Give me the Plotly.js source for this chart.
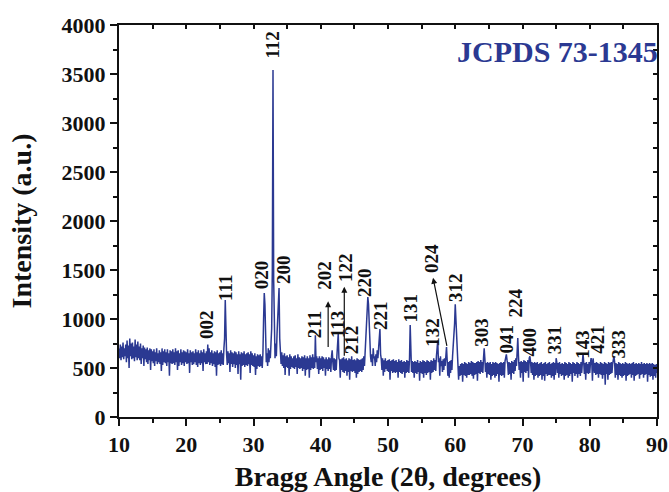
<!DOCTYPE html>
<html>
<head>
<meta charset="utf-8">
<script src="https://cdn.plot.ly/plotly-3.0.1.min.js"></script>
<style>html,body{margin:0;padding:0;background:#fff;}#chart{width:669px;height:492px;}</style>
</head>
<body>
<div id="chart"></div>
<script>
// XRD scan: 2θ start and step (degrees), intensities
const scanStart = 10.0;
const scanStep = 0.1;
const intensity = [
  700,600,740,580,720,610,760,590,700,620,   // 10
  740,560,780,600,730,500,800,620,750,590,   // 11
  760,600,720,570,790,610,740,580,770,600,   // 12
  720,580,750,540,700,600,730,520,710,590,   // 13
  690,560,710,540,680,580,700,480,690,570,   // 14
  670,550,690,520,660,570,700,540,650,560,   // 15
  680,540,660,470,700,530,670,560,690,550,   // 16
  660,520,690,560,650,420,680,550,670,540,   // 17
  690,550,660,530,700,560,670,480,680,520,   // 18
  650,560,690,530,660,550,680,520,670,560,   // 19
  660,540,690,550,650,450,680,560,660,530,   // 20
  670,540,650,560,690,530,660,510,680,550,   // 21
  650,530,680,550,660,470,690,560,650,540,   // 22
  670,540,740,560,700,530,660,550,680,520,   // 23
  650,540,670,510,660,420,680,530,650,540,   // 24
  660,520,680,540,650,530,700,800,1193,750,  // 25
  640,530,670,550,650,460,680,540,660,510,   // 26
  650,540,670,500,660,530,640,440,670,540,   // 27
  640,380,660,520,650,530,670,510,640,530,   // 28
  650,520,660,540,640,450,670,530,650,520,   // 29
  630,510,650,430,620,490,640,520,630,510,   // 30
  640,520,620,500,650,1000,1265,1150,800,560,// 31
  650,520,700,560,680,600,750,900,1500,3540, // 32
  1400,700,600,750,620,850,1000,1150,1316,800,// 33
  620,540,660,520,630,500,650,430,620,510,   // 34
  630,500,610,420,640,490,620,510,600,500,   // 35
  620,490,630,510,600,440,640,500,610,490,   // 36
  600,500,620,470,610,490,630,420,600,480,   // 37
  620,490,600,400,630,480,610,500,640,490,   // 38
  610,500,835,560,620,490,600,440,620,480,   // 39
  600,490,620,470,610,500,590,420,610,490,   // 40
  590,470,610,490,600,460,620,680,560,480,   // 41
  600,470,590,480,620,700,855,600,580,400,   // 42
  590,480,600,460,610,450,590,470,600,420,   // 43
  580,460,600,380,590,470,620,460,580,470,   // 44
  590,450,580,400,600,440,590,460,580,470,   // 45
  590,460,600,480,620,520,700,850,1000,1100, // 46
  1224,1150,900,700,620,560,640,520,700,600, // 47
  620,520,640,560,680,600,720,800,897,640,   // 48
  590,480,600,420,580,460,600,490,570,470,   // 49
  580,460,590,380,570,470,580,450,590,460,   // 50
  570,450,580,460,560,400,590,460,570,450,   // 51
  580,440,560,460,570,400,560,450,580,460,   // 52
  570,450,600,938,620,460,570,450,560,400,   // 53
  570,450,560,440,580,460,550,370,570,450,   // 54
  560,440,580,400,570,450,560,430,580,450,   // 55
  570,460,560,380,580,450,570,460,600,480,   // 56
  580,470,620,700,780,560,600,420,620,520,   // 57
  570,460,590,480,600,520,640,713,580,420,   // 58
  560,400,570,450,580,480,620,700,850,950,   // 59
  1150,1000,700,560,440,380,520,420,540,430, // 60
  550,360,540,430,560,420,550,400,540,430,   // 61
  560,430,550,440,570,420,560,390,550,430,   // 62
  550,440,560,370,570,450,560,440,580,460,   // 63
  560,450,600,702,600,460,550,400,560,440,   // 64
  550,430,560,380,540,420,560,430,550,400,   // 65
  560,420,550,440,540,360,550,430,560,420,   // 66
  550,430,560,400,570,600,640,580,540,430,   // 67
  560,440,550,380,570,450,560,440,580,470,   // 68
  600,520,680,805,620,480,560,400,570,450,   // 69
  560,360,580,460,570,450,560,470,580,400,   // 70
  600,620,560,450,560,430,550,380,560,420,   // 71
  550,430,560,400,540,420,550,430,560,380,   // 72
  540,420,550,370,560,440,540,420,550,430,   // 73
  560,430,540,400,550,420,560,380,550,430,   // 74
  600,560,450,550,400,560,440,540,420,550,   // 75
  430,540,380,560,420,550,430,540,400,560,   // 76
  420,550,440,540,360,560,450,550,420,540,   // 77
  440,560,400,550,440,540,420,560,450,600,   // 78
  650,560,440,550,380,560,450,540,440,560,   // 79
  450,550,600,560,370,600,540,450,550,430,   // 80
  560,440,550,400,540,440,560,430,550,390,   // 81
  540,430,560,330,550,440,540,380,560,430,   // 82
  550,440,560,450,540,600,620,560,400,550,   // 83
  430,540,380,560,430,550,420,540,400,550,   // 84
  420,540,430,560,370,550,420,540,430,550,   // 85
  440,540,400,550,430,560,370,540,420,550,   // 86
  430,540,440,550,390,540,430,560,440,540,   // 87
  400,550,430,540,440,550,360,540,430,550,   // 88
  410,540,420,550,380,540,420,530,400,540,   // 89
  450                                        // 90
];

// Miller-index labels: text, 2θ and intensity where each label sits
const hklLabels = ["002","111","020","112","200","211","202","113","122","212","220","221","131","132","024","312","303","041","224","400","331","143","421","333"];
const hklX      = [23.1, 25.8, 31.3, 32.9, 34.4, 39.2, 40.6, 42.6, 43.6, 44.6, 46.6, 48.8, 53.3, 56.7, 56.5, 60.0, 64.0, 67.7, 68.9, 71.1, 74.8, 78.9, 81.1, 84.2];
const hklY      = [ 940, 1320, 1450, 3790, 1500,  940, 1450,  940, 1530,  790, 1370, 1040, 1110,  860, 1620, 1320,  860,  790, 1160,  770,  790,  740,  790,  740];

// Indicator arrows: from (tail 2θ, tail intensity) to (head 2θ, head intensity)
const arrowTailX = [41.1, 43.5, 58.8];
const arrowTailY = [ 700,  610,  710];
const arrowHeadX = [41.1, 43.5, 56.7];
const arrowHeadY = [1180, 1330, 1420];

const cardText = "JCPDS 73-1345";

const twoTheta = intensity.map((_, i) => +(scanStart + i * scanStep).toFixed(2));

const serif = "Liberation Serif, Times New Roman, serif";
const blue = "#2B3992";

const annotations = [];
hklLabels.forEach((t, i) => {
  annotations.push({x: hklX[i], y: hklY[i], xref: "x", yref: "y", text: t, showarrow: false,
    textangle: -90, font: {family: serif, size: 19, color: "#111", weight: "bold"}});
});
arrowTailX.forEach((_, i) => {
  annotations.push({x: arrowHeadX[i], y: arrowHeadY[i], ax: arrowTailX[i], ay: arrowTailY[i],
    xref: "x", yref: "y", axref: "x", ayref: "y", text: "", showarrow: true,
    arrowhead: 2, arrowsize: 1, arrowwidth: 1.2, arrowcolor: "#111"});
});
annotations.push({x: 1.005, xref: "paper", xanchor: "right", y: 3730, yref: "y", yanchor: "middle",
  text: cardText, showarrow: false, font: {family: serif, size: 30, color: blue, weight: "bold"}});

const data = [
  {x: twoTheta, y: intensity, type: "scatter", mode: "lines",
   line: {color: blue, width: 1.5}, hoverinfo: "skip", showlegend: false},
  {x: [10, 90], y: [0, 4000], xaxis: "x2", yaxis: "y2", type: "scatter", mode: "markers",
   marker: {opacity: 0}, hoverinfo: "skip", showlegend: false}
];

const layout = {
  width: 669, height: 492,
  margin: {l: 119, r: 12, t: 25, b: 75},
  paper_bgcolor: "#fff", plot_bgcolor: "#fff",
  font: {family: serif, color: "#111"},
  xaxis: {
    range: [10, 90], dtick: 10, tick0: 10, ticks: "outside", ticklen: 7, tickwidth: 2, tickcolor: "#111",
    minor: {dtick: 5, ticks: "outside", ticklen: 4, tickwidth: 2, tickcolor: "#111"},
    showline: true, linewidth: 2, linecolor: "#111", showgrid: false, zeroline: false,
    tickfont: {family: serif, size: 22, color: "#111", weight: "bold"},
    title: {text: "Bragg Angle (2θ, degrees)", standoff: 24, font: {family: serif, size: 28, color: "#111", weight: "bold"}}
  },
  yaxis: {
    range: [0, 4000], dtick: 500, tick0: 0, ticks: "outside", ticklen: 7, tickwidth: 2, tickcolor: "#111",
    minor: {dtick: 250, ticks: "outside", ticklen: 4, tickwidth: 2, tickcolor: "#111"},
    showline: true, linewidth: 2, linecolor: "#111", showgrid: false, zeroline: false,
    tickfont: {family: serif, size: 22, color: "#111", weight: "bold"},
    title: {text: "Intensity (a.u.)", standoff: 22, font: {family: serif, size: 28, color: "#111", weight: "bold"}}
  },
  xaxis2: {
    overlaying: "x", side: "top", anchor: "y", range: [10, 90], dtick: 5, ticks: "inside", ticklen: 4, tickwidth: 2,
    tickcolor: "#111", showticklabels: false, showline: true, linewidth: 2, linecolor: "#111",
    showgrid: false, zeroline: false
  },
  yaxis2: {
    overlaying: "y", side: "right", anchor: "x", range: [0, 4000], dtick: 250, ticks: "inside", ticklen: 4, tickwidth: 2,
    tickcolor: "#111", showticklabels: false, showline: true, linewidth: 2, linecolor: "#111",
    showgrid: false, zeroline: false
  },
  annotations: annotations
};

Plotly.newPlot("chart", data, layout, {displayModeBar: false, staticPlot: true});
</script>
</body>
</html>
